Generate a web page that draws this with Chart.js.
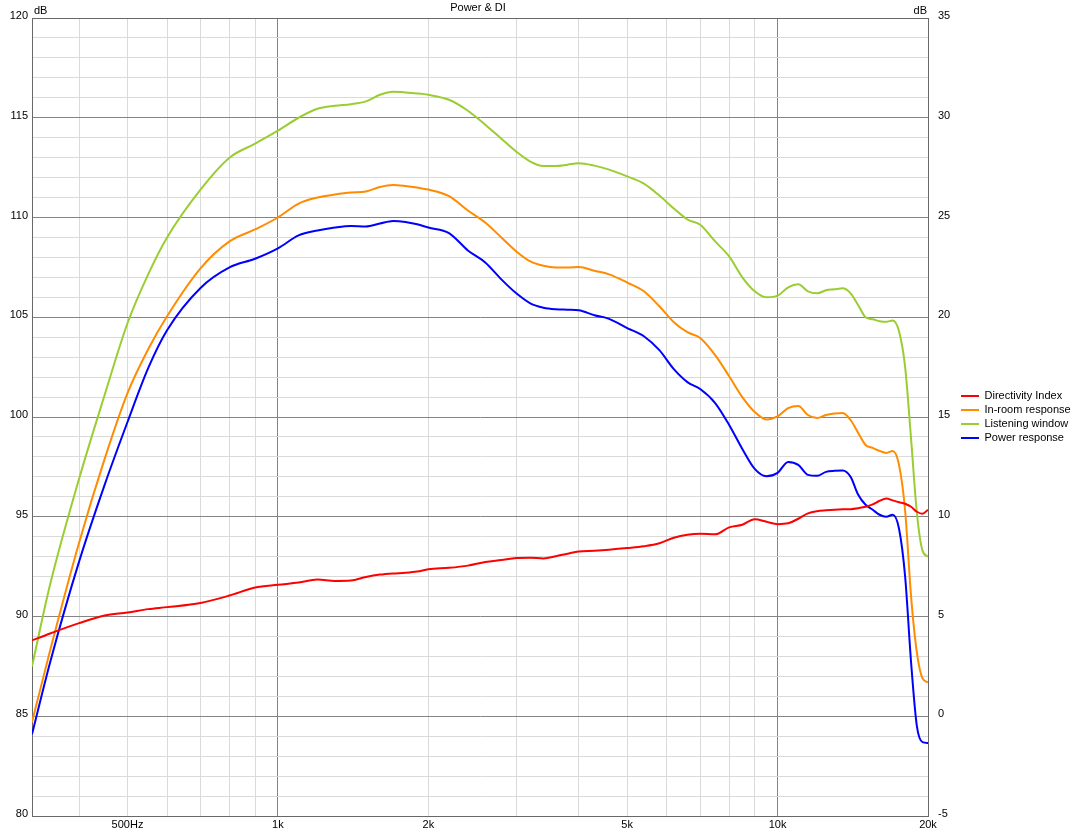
<!DOCTYPE html>
<html>
<head>
<meta charset="utf-8">
<title>Power & DI</title>
<script src="https://cdn.jsdelivr.net/npm/chart.js@4.4.1/dist/chart.umd.min.js"></script>
<style>
  html, body { margin: 0; padding: 0; background: #ffffff; }
  canvas { display: block; }
</style>
</head>
<body>
<canvas id="grafico" width="1080" height="834"></canvas>
<script>
// Frequencies (Hz) shared by all four curves
var freqs = [322, 350, 400, 450, 500, 550, 600, 700, 800, 900,
  1000, 1100, 1200, 1300, 1400, 1500, 1600, 1700, 1800, 1900, 2000,
  2200, 2400, 2600, 2800, 3000, 3200, 3400, 3600, 3800, 4000,
  4300, 4600, 5000, 5400, 5800, 6200, 6600, 7000,
  7500, 8000, 8500, 9000, 9500, 10000,
  10500, 11000, 11500, 12000, 12500, 13000, 13500, 14000, 14500, 15000,
  15500, 16000, 16500, 17000, 17500, 18000, 18500, 19000, 19500, 20000];

// Directivity index, read against the right axis (dB)
var directivityIndex = [3.8, 4.15, 4.67, 5.05, 5.2, 5.37, 5.47, 5.68, 6.05, 6.45,
  6.59, 6.7, 6.85, 6.78, 6.8, 6.98, 7.1, 7.16, 7.19, 7.25, 7.37,
  7.44, 7.55, 7.73, 7.83, 7.93, 7.95, 7.91, 8.02, 8.15, 8.26,
  8.3, 8.35, 8.43, 8.52, 8.67, 8.95, 9.1, 9.15,
  9.12, 9.47, 9.6, 9.87, 9.75, 9.63,
  9.67, 9.9, 10.17, 10.28, 10.32, 10.35, 10.37, 10.38, 10.43, 10.5,
  10.62, 10.8, 10.92, 10.82, 10.73, 10.65, 10.5, 10.25, 10.15, 10.35];

// The other curves use the left axis (dB)
var inRoom = [84.7, 88.3, 93.7, 97.9, 101.2, 103.4, 105.05, 107.45, 108.8, 109.4,
  110.0, 110.7, 111.0, 111.15, 111.25, 111.3, 111.53, 111.63, 111.58, 111.5, 111.4,
  111.07, 110.35, 109.75, 109.0, 108.3, 107.8, 107.58, 107.5, 107.5, 107.52,
  107.33, 107.15, 106.74, 106.3, 105.55, 104.75, 104.25, 103.96,
  103.1, 102.04, 101.0, 100.25, 99.88, 100.03,
  100.45, 100.55, 100.1, 99.95, 100.1, 100.17, 100.2, 99.85, 99.2, 98.6,
  98.45, 98.3, 98.2, 98.3, 97.6, 95.3, 91.0, 88.2, 86.9, 86.7];

var listeningWindow = [87.5, 91.6, 96.9, 101.1, 104.7, 107.15, 109.0, 111.4, 113.0, 113.7,
  114.35, 115.0, 115.45, 115.6, 115.68, 115.82, 116.15, 116.3, 116.27, 116.22, 116.15,
  115.9, 115.35, 114.65, 113.95, 113.3, 112.8, 112.58, 112.58, 112.65, 112.72,
  112.6, 112.4, 112.06, 111.7, 111.1, 110.45, 109.9, 109.64,
  108.8, 108.05, 107.0, 106.3, 106.0, 106.08,
  106.5, 106.65, 106.3, 106.2, 106.35, 106.4, 106.45, 106.2, 105.6, 105.0,
  104.9, 104.8, 104.77, 104.84, 104.3, 102.5, 98.9, 95.2, 93.3, 93.0];

var powerResponse = [84.1, 87.7, 92.75, 96.6, 99.75, 102.45, 104.35, 106.47, 107.5, 107.93,
  108.45, 109.1, 109.35, 109.5, 109.58, 109.55, 109.7, 109.83, 109.78, 109.66, 109.5,
  109.22, 108.35, 107.75, 106.9, 106.2, 105.7, 105.48, 105.4, 105.38, 105.35,
  105.1, 104.92, 104.46, 104.05, 103.35, 102.4, 101.75, 101.4,
  100.7, 99.6, 98.4, 97.4, 97.03, 97.2,
  97.75, 97.6, 97.1, 97.05, 97.25, 97.3, 97.32, 97.0, 96.1, 95.6,
  95.35, 95.1, 95.0, 95.1, 94.4, 92.0, 87.7, 84.5, 83.7, 83.66];

// Axis ticks
var xGridValues = [400, 500, 600, 700, 800, 900, 1000, 2000, 3000, 4000, 5000,
  6000, 7000, 8000, 9000, 10000, 20000];
var xLabelValues = [500, 1000, 2000, 5000, 10000, 20000];
var xLabelTexts = ['500Hz', '1k', '2k', '5k', '10k', '20k'];
var xMajorValues = [1000, 10000];

var corMoldura = '#686868';
var corMaior = '#858585';
var corMenor = '#dadada';

function pontos(valores) {
  return freqs.map(function(f, i) { return { x: f, y: valores[i] }; });
}

Chart.defaults.font.family = '"Liberation Sans", Arial, sans-serif';
Chart.defaults.font.size = 11;
Chart.defaults.color = '#000000';

// frame, title and the two "dB" unit labels
var moldura = {
  id: 'moldura',
  beforeDatasetsDraw: function(chart) {
    var a = chart.chartArea;
    var ctx = chart.ctx;
    ctx.save();
    ctx.strokeStyle = corMoldura;
    ctx.lineWidth = 1;
    ctx.strokeRect(Math.round(a.left) + 0.5, Math.round(a.top) + 0.5,
      Math.round(a.right) - Math.round(a.left), Math.round(a.bottom) - Math.round(a.top));
    ctx.restore();
  },
  afterDraw: function(chart) {
    var a = chart.chartArea;
    var ctx = chart.ctx;
    ctx.save();
    ctx.font = '11px "Liberation Sans", Arial, sans-serif';
    ctx.fillStyle = '#000000';
    ctx.textBaseline = 'middle';
    ctx.textAlign = 'center';
    ctx.fillText('Power & DI', (a.left + a.right) / 2 - 2, 8);
    ctx.textAlign = 'left';
    ctx.fillText('dB', a.left + 2, 11);
    ctx.textAlign = 'right';
    ctx.fillText('dB', a.right - 1, 11);
    ctx.restore();
  }
};

var ctx = document.getElementById('grafico').getContext('2d');

new Chart(ctx, {
  type: 'line',
  data: {
    datasets: [
      { label: 'Directivity Index', data: pontos(directivityIndex), yAxisID: 'y2',
        borderColor: '#ff0000', backgroundColor: '#ff0000' },
      { label: 'In-room response', data: pontos(inRoom), yAxisID: 'y',
        borderColor: '#ff8c00', backgroundColor: '#ff8c00' },
      { label: 'Listening window', data: pontos(listeningWindow), yAxisID: 'y',
        borderColor: '#9acd32', backgroundColor: '#9acd32' },
      { label: 'Power response', data: pontos(powerResponse), yAxisID: 'y',
        borderColor: '#0000ff', backgroundColor: '#0000ff' }
    ]
  },
  options: {
    responsive: false,
    animation: false,
    devicePixelRatio: 1,
    layout: { padding: { top: 18, right: 4, bottom: 0, left: 0 } },
    elements: {
      line: { borderWidth: 2, cubicInterpolationMode: 'monotone', fill: false },
      // borderWidth here is what the legend uses for its line samples
      point: { radius: 0, hoverRadius: 0, borderWidth: 2 }
    },
    plugins: {
      tooltip: { enabled: false },
      legend: {
        position: 'right',
        fullSize: false,
        maxWidth: 118,
        labels: {
          usePointStyle: true,
          pointStyle: 'line',
          pointStyleWidth: 18,
          padding: 3,
          color: '#000000',
          font: { size: 11 }
        }
      }
    },
    scales: {
      x: {
        type: 'logarithmic',
        min: 322,
        max: 20000,
        afterBuildTicks: function(scale) {
          scale.ticks = xGridValues.map(function(v) { return { value: v }; });
        },
        afterFit: function(scale) { scale.height = 18; },
        ticks: {
          autoSkip: false,
          maxRotation: 0,
          padding: 2,
          callback: function(value) {
            var i = xLabelValues.indexOf(value);
            return i >= 0 ? xLabelTexts[i] : '';
          }
        },
        grid: {
          drawTicks: false,
          color: function(c) {
            if (!c.tick) return corMenor;
            if (c.tick.value === 20000) return corMoldura;
            return xMajorValues.indexOf(c.tick.value) >= 0 ? corMaior : corMenor;
          }
        },
        border: { color: corMoldura }
      },
      y: {
        position: 'left',
        min: 80,
        max: 120,
        afterFit: function(scale) { scale.width = 32; },
        ticks: {
          stepSize: 1,
          autoSkip: false,
          padding: 4,
          labelOffset: -2,
          callback: function(value) { return value % 5 === 0 ? String(value) : ''; }
        },
        grid: {
          drawTicks: false,
          color: function(c) {
            if (!c.tick) return corMenor;
            if (c.tick.value === 80 || c.tick.value === 120) return corMoldura;
            return c.tick.value % 5 === 0 ? corMaior : corMenor;
          }
        },
        border: { color: corMoldura }
      },
      y2: {
        position: 'right',
        min: -5,
        max: 35,
        afterFit: function(scale) { scale.width = 30; },
        ticks: { stepSize: 5, padding: 10, labelOffset: -2 },
        grid: { drawOnChartArea: false, drawTicks: false },
        border: { color: corMoldura }
      }
    }
  },
  plugins: [moldura]
});
</script>
</body>
</html>
